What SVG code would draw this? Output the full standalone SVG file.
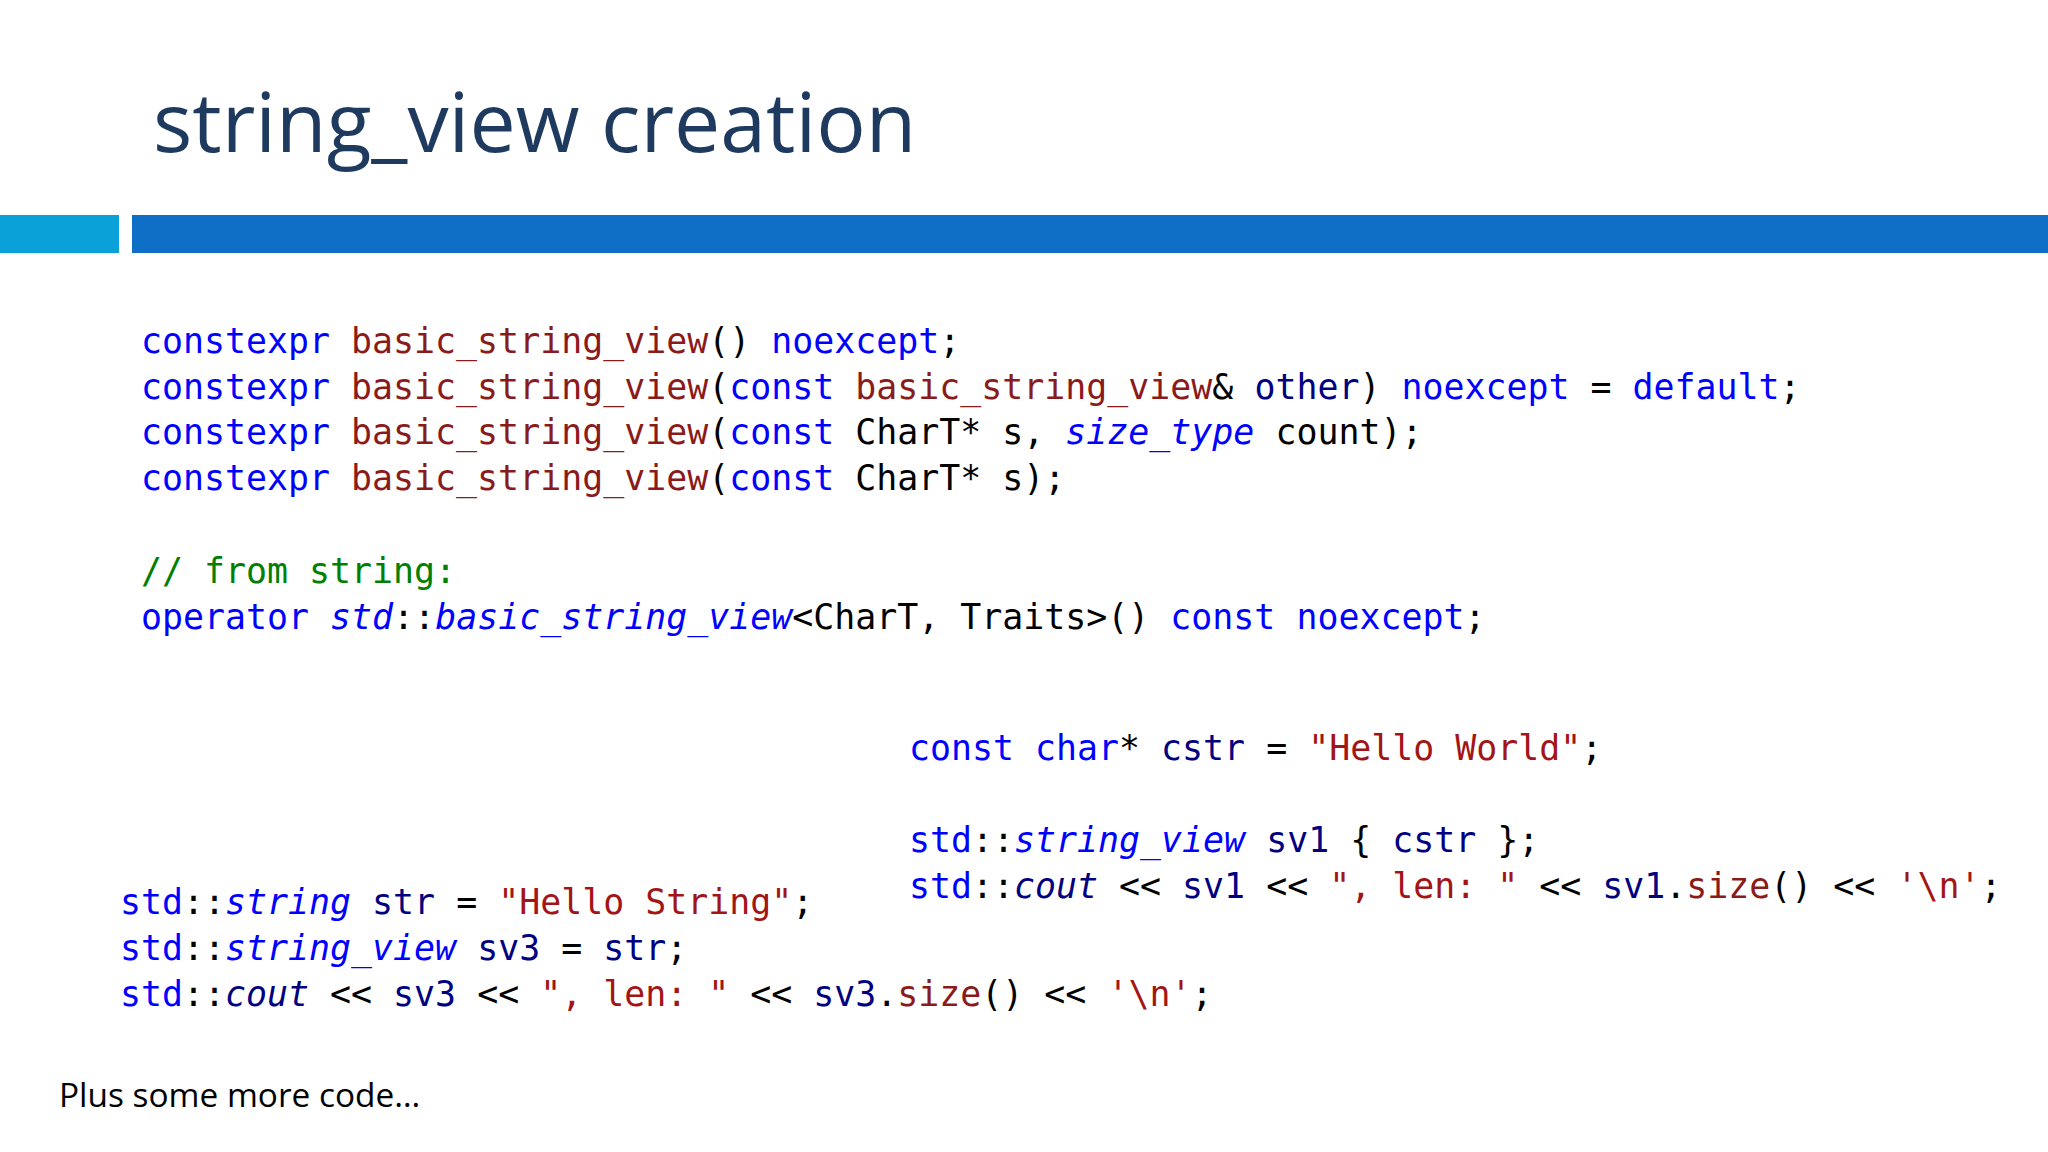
<svg xmlns="http://www.w3.org/2000/svg" width="2048" height="1152" viewBox="0 0 2048 1152">
<style>
.code{font-family:"DejaVu Sans Mono","Liberation Mono",monospace;font-size:34.9px;fill:#000}
.k{fill:#0000ff}.n{fill:#000080}.f{fill:#8b1a1a}.s{fill:#a31515}.c{fill:#008000}.i{font-style:italic}
</style>
<rect width="2048" height="1152" fill="#fff"/>
<g id="title"><text x="153" y="152" font-family="Open Sans, Liberation Sans, sans-serif" font-size="82.4" fill="#1f3a5f">string_view creation</text></g>
<g id="bars"><rect x="0" y="215" width="119" height="38" fill="#0aa0d8"/><rect x="132" y="215" width="1916" height="38" fill="#0f6fc6"/></g>
<g id="block1" class="code" xml:space="preserve">
<text x="141" y="353"><tspan class="k">constexpr</tspan> <tspan class="f">basic_string_view</tspan>() <tspan class="k">noexcept</tspan>;</text>
<text x="141" y="399"><tspan class="k">constexpr</tspan> <tspan class="f">basic_string_view</tspan>(<tspan class="k">const</tspan> <tspan class="f">basic_string_view</tspan>&amp; <tspan class="n">other</tspan>) <tspan class="k">noexcept</tspan> = <tspan class="k">default</tspan>;</text>
<text x="141" y="444"><tspan class="k">constexpr</tspan> <tspan class="f">basic_string_view</tspan>(<tspan class="k">const</tspan> CharT* s, <tspan class="k i">size_type</tspan> count);</text>
<text x="141" y="490"><tspan class="k">constexpr</tspan> <tspan class="f">basic_string_view</tspan>(<tspan class="k">const</tspan> CharT* s);</text>
<text x="141" y="583" class="c">// from string:</text>
<text x="141" y="629"><tspan class="k">operator</tspan> <tspan class="k i">std</tspan>::<tspan class="k i">basic_string_view</tspan>&lt;CharT, Traits&gt;() <tspan class="k">const</tspan> <tspan class="k">noexcept</tspan>;</text>
</g>
<g id="block2" class="code" xml:space="preserve">
<text x="909" y="760"><tspan class="k">const</tspan> <tspan class="k">char</tspan>* <tspan class="n">cstr</tspan> = <tspan class="s">"Hello World"</tspan>;</text>
<text x="909" y="852"><tspan class="k">std</tspan>::<tspan class="k i">string_view</tspan> <tspan class="n">sv1</tspan> { <tspan class="n">cstr</tspan> };</text>
<text x="909" y="898"><tspan class="k">std</tspan>::<tspan class="n i">cout</tspan> &lt;&lt; <tspan class="n">sv1</tspan> &lt;&lt; <tspan class="s">", len: "</tspan> &lt;&lt; <tspan class="n">sv1</tspan>.<tspan class="f">size</tspan>() &lt;&lt; <tspan class="s">'\n'</tspan>;</text>
</g>
<g id="block3" class="code" xml:space="preserve">
<text x="120" y="914"><tspan class="k">std</tspan>::<tspan class="k i">string</tspan> <tspan class="n">str</tspan> = <tspan class="s">"Hello String"</tspan>;</text>
<text x="120" y="960"><tspan class="k">std</tspan>::<tspan class="k i">string_view</tspan> <tspan class="n">sv3</tspan> = <tspan class="n">str</tspan>;</text>
<text x="120" y="1006"><tspan class="k">std</tspan>::<tspan class="n i">cout</tspan> &lt;&lt; <tspan class="n">sv3</tspan> &lt;&lt; <tspan class="s">", len: "</tspan> &lt;&lt; <tspan class="n">sv3</tspan>.<tspan class="f">size</tspan>() &lt;&lt; <tspan class="s">'\n'</tspan>;</text>
</g>
<g id="note"><text x="59" y="1107" font-family="Open Sans, Liberation Sans, sans-serif" font-size="33.4" fill="#000">Plus some more code…</text></g>
</svg>
